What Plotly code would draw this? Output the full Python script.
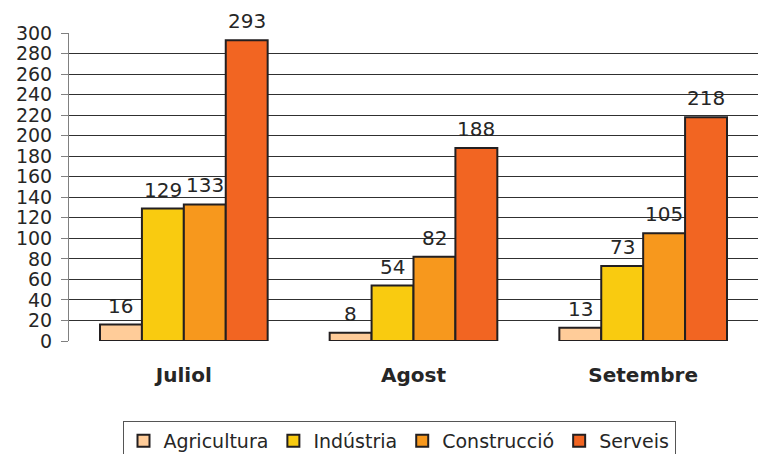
import plotly.graph_objects as go

months = ["Juliol", "Agost", "Setembre"]
series_names = ["Agricultura", "Indústria", "Construcció", "Serveis"]
agricultura = [16, 8, 13]
industria = [129, 54, 73]
construccio = [133, 82, 105]
serveis = [293, 188, 218]
y_ticks = list(range(0, 301, 20))

colors = ["#FFCC99", "#F9CB10", "#F7981D", "#F26522"]
values = [agricultura, industria, construccio, serveis]

FONT = "DejaVu Sans"
TXT = "#262626"
BARGAP = 0.27

fig = go.Figure()
for name, vals, col in zip(series_names, values, colors):
    fig.add_trace(go.Bar(
        x=months, y=vals, name=name,
        marker=dict(color=col, line=dict(color="#231F20", width=2)),
    ))

annotations = []
n = len(series_names)
gw = 1 - BARGAP
for j, vals in enumerate(values):
    for i, v in enumerate(vals):
        annotations.append(dict(
            x=i - gw / 2 + (j + 0.5) * gw / n, y=v, xref="x", yref="y",
            text=str(v), showarrow=False, yanchor="bottom", yshift=5,
            font=dict(family=FONT, size=20, color=TXT),
        ))

fig.update_layout(
    width=760, height=454,
    margin=dict(l=69, r=2, t=33, b=113, autoexpand=False),
    paper_bgcolor="white", plot_bgcolor="white",
    barmode="group", bargap=BARGAP, bargroupgap=0,
    font=dict(family=FONT, size=19, color=TXT),
    annotations=annotations,
    legend=dict(
        orientation="h", xref="container", yref="container",
        x=0.525, xanchor="center", y=1 - 421 / 454, yanchor="top",
        bordercolor="#555555", borderwidth=1,
        font=dict(family=FONT, size=19, color=TXT),
        itemwidth=30, traceorder="normal",
    ),
    xaxis=dict(
        type="category", showgrid=False, showline=False, ticks="",
        ticklabelstandoff=20, automargin=False,
        tickfont=dict(family=FONT, size=20, color=TXT, weight="bold"),
    ),
    yaxis=dict(
        range=[0, 300], tickvals=y_ticks, showgrid=True,
        gridcolor="#303030", gridwidth=1,
        showline=True, linecolor="#808080", linewidth=1,
        ticks="outside", ticklen=7, tickcolor="#808080",
        ticklabelstandoff=5, zeroline=False, automargin=False,
        tickfont=dict(family=FONT, size=19, color=TXT),
    ),
)

fig.write_html(
    "out.html",
    config={"displayModeBar": False},
    post_script="document.body.style.margin='0';document.body.style.overflow='hidden';",
)
